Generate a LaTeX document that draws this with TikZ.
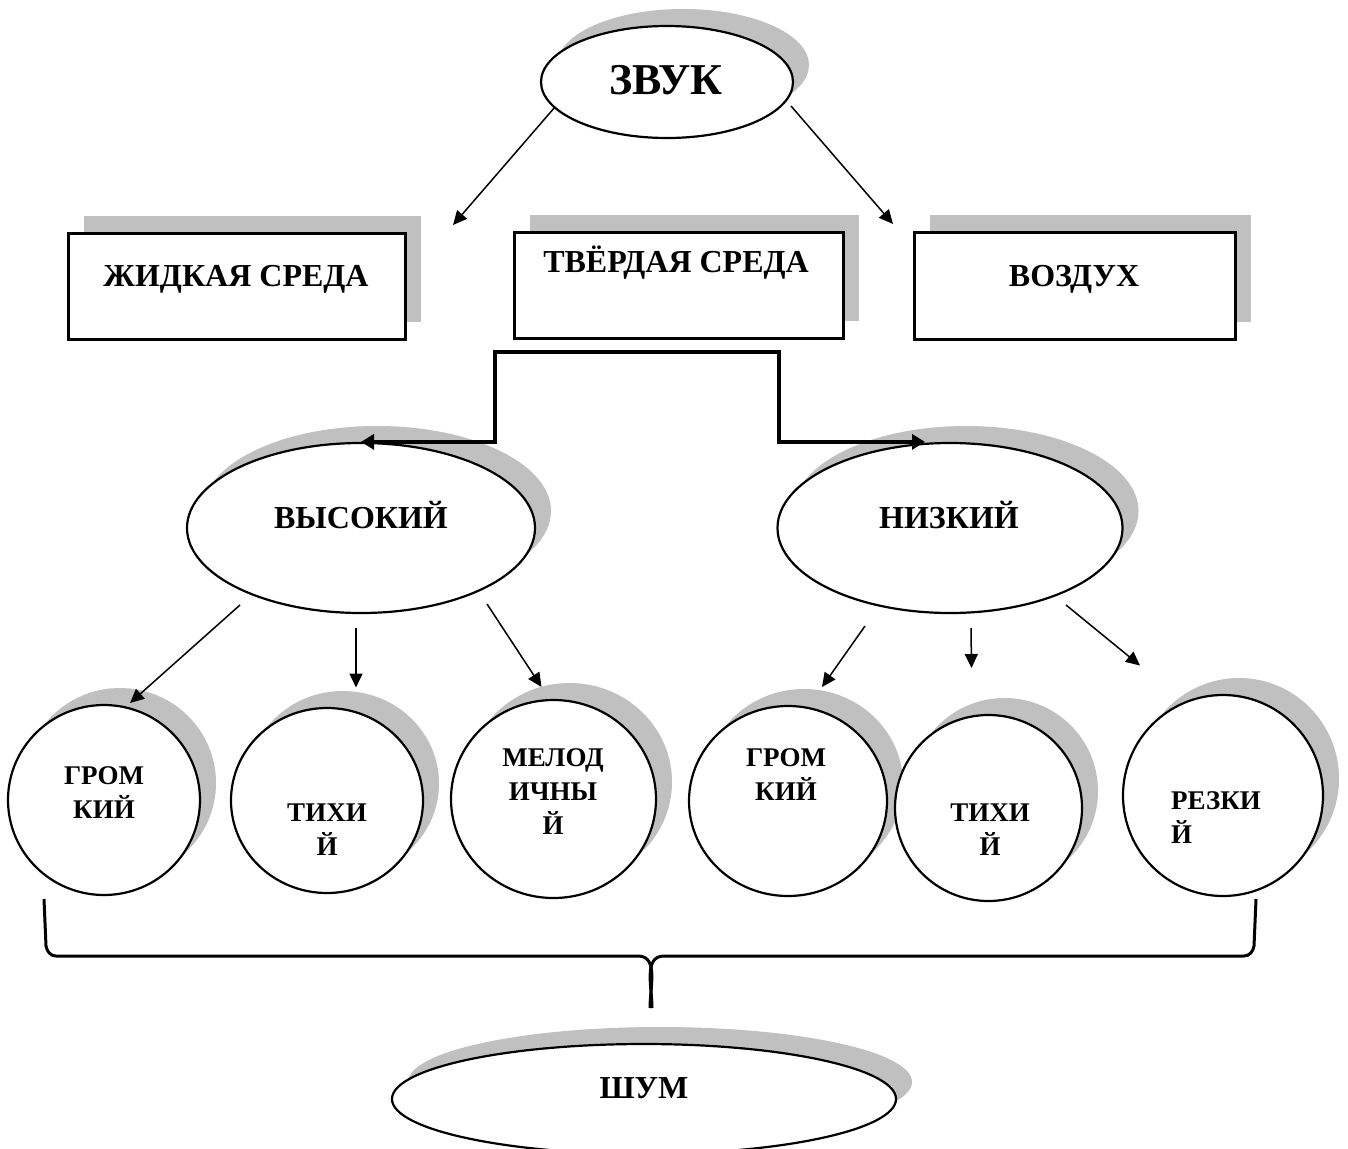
\documentclass[tikz,border=0pt]{standalone}
\usepackage{fontspec}
\setmainfont{Liberation Serif}
\usetikzlibrary{shapes.geometric,arrows.meta,calc}
\definecolor{shadowc}{HTML}{C0C0C0}
\begin{document}
\begin{tikzpicture}[x=1pt,y=-1pt,
  shad/.style={preaction={fill=shadowc, draw=none, transform canvas={xshift=16pt,yshift=17pt}}},
  oval/.style={ellipse, draw, line width=2.2pt, fill=white, inner sep=0pt, shad},
  boxn/.style={rectangle, draw, line width=3pt, fill=white, inner sep=0pt, shad},
  lbl/.style={font=\bfseries\fontsize{32}{40}\selectfont, inner sep=0pt, anchor=base},
  big/.style={font=\bfseries\fontsize{44}{52}\selectfont, inner sep=0pt, anchor=base},
  small/.style={font=\bfseries\fontsize{27}{34}\selectfont, inner sep=0pt, align=center, anchor=north},
  arr/.style={line width=1.5pt, -{Triangle[length=14pt,width=13pt]}},
  elbow/.style={line width=3.5pt, -{Triangle[length=13pt,width=15pt]}},
  brace/.style={line width=3pt, line join=round}]
\useasboundingbox[fill=white] (0,0) rectangle (1348,1148);

% shapes
\node[oval, minimum width=252pt, minimum height=112pt] (zvuk) at (667,82) {};
\node[boxn, minimum width=337pt, minimum height=106pt] (liq) at (236.5,286) {};
\node[boxn, minimum width=329pt, minimum height=106pt] (solid) at (678.5,285) {};
\node[boxn, minimum width=321pt, minimum height=107pt] (air) at (1074.5,285.5) {};
\node[oval, minimum width=348pt, minimum height=170pt] (vys) at (361,528) {};
\node[oval, minimum width=345pt, minimum height=170pt] (niz) at (950,528) {};
\node[oval, minimum width=192pt, minimum height=190pt] (c1) at (104,800) {};
\node[oval, minimum width=192pt, minimum height=185pt] (c2) at (327,800.5) {};
\node[oval, minimum width=205pt, minimum height=198pt] (c3) at (553.5,799) {};
\node[oval, minimum width=198pt, minimum height=190pt] (c4) at (788,801) {};
\node[oval, minimum width=187pt, minimum height=186pt] (c5) at (988.5,808) {};
\node[oval, minimum width=200pt, minimum height=201pt] (c6) at (1223,795.5) {};
\node[oval, minimum width=504pt, minimum height=110pt] (shum) at (644,1099) {};

% texts
\node[big] (tzvuk) at (666,94) {ЗВУК};
\node[lbl] (tliq) at (236,286) {ЖИДКАЯ СРЕДА};
\node[lbl] (tsolid) at (676,272) {ТВЁРДАЯ СРЕДА};
\node[lbl] (tair) at (1074,286) {ВОЗДУХ};
\node[lbl] (tvys) at (361,528) {ВЫСОКИЙ};
\node[lbl] (tniz) at (949,528) {НИЗКИЙ};
\node[lbl] (tshum) at (644,1098) {ШУМ};
\node[small] (tc1) at (104,766) {ГРОМ\\КИЙ};
\node[small] (tc2) at (327,804) {ТИХИ\\Й};
\node[small] (tc3) at (553,748) {МЕЛОД\\ИЧНЫ\\Й};
\node[small] (tc4) at (786,748) {ГРОМ\\КИЙ};
\node[small] (tc5) at (990,804) {ТИХИ\\Й};
\node[small, align=left, anchor=north west] (tc6) at (1171,791) {РЕЗКИ\\Й};

% free ends
\coordinate (eliq) at (453,225);
\coordinate (eair) at (893,224);
\coordinate (fork) at (637,352);

% arrows from ЗВУК
\draw[arr] ($(zvuk)+(-112,25)$) -- (eliq);
\draw[arr] ($(zvuk)+(124,24)$) -- (eair);

% elbow connector
\draw[elbow] (fork) -| ($(vys.north)+(134,0)$) -- (vys.north);
\draw[elbow] (fork) -| ($(niz.north)+(-171,0)$) -- ($(niz.north)+(-25,0)$);

% arrows from ВЫСОКИЙ
\draw[arr] ($(vys)+(-121,77)$) -- ($(c1)+(26,-97)$);
\draw[arr] ($(vys)+(-5,100)$) -- ($(c2)+(29,-113)$);
\draw[arr] ($(vys)+(126,76)$) -- ($(c3)+(-12,-112)$);

% arrows from НИЗКИЙ
\draw[arr] ($(niz)+(-85,98)$) -- ($(c4)+(34,-114)$);
\draw[arr] ($(niz)+(21,100)$) -- ($(c5)+(-17,-140)$);
\draw[arr] ($(niz)+(116,77)$) -- ($(c6)+(-83,-130)$);

% brace
\draw[brace] (44,899) -- (46,946) to[out=-80,in=180] (56,956) -- (638,956)
  to[out=0,in=90] (650,1008);
\draw[brace] (1256,899) -- (1254,946) to[out=-100,in=0] (1244,956) -- (664,956)
  to[out=180,in=90] (652,1008);
\end{tikzpicture}
\end{document}
